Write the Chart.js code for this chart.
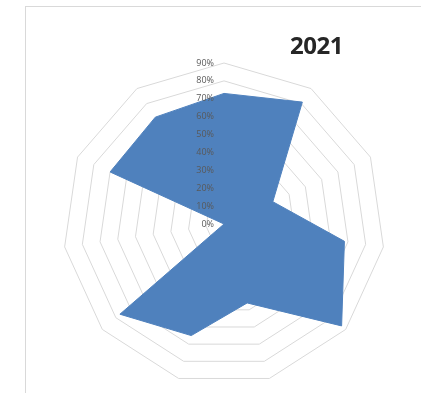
<!DOCTYPE html>
<html>
<head>
<meta charset="utf-8">
<script src="https://cdn.jsdelivr.net/npm/chart.js@4"></script>
<style>
  html, body { margin: 0; padding: 0; background: #fff; }
  #wrap { position: relative; width: 421px; height: 396px; overflow: hidden; }
  #frame { position: absolute; left: 25px; top: 6px; width: 420px; height: 386px;
           border-left: 1px solid #d9d9d9; border-top: 1px solid #d9d9d9; }
  #title { position: absolute; left: 290px; top: 28px; font: bold 24px "Open Sans", sans-serif;
           color: #262626; letter-spacing: -0.5px; }
  canvas { position: absolute; left: 0; top: 0; }
</style>
</head>
<body>
<div id="wrap">
  <div id="frame"></div>
  <canvas id="radar" width="421" height="396"></canvas>
  <div id="title">2021</div>
</div>
<script>
// Chart data
const categories = ['1', '2', '3', '4', '5', '6', '7', '8', '9', '10', '11'];
const values2021 = [0.73, 0.81, 0.30, 0.68, 0.87, 0.46, 0.65, 0.77, 0, 0.70, 0.71];
const tickValues = [0, 0.1, 0.2, 0.3, 0.4, 0.5, 0.6, 0.7, 0.8, 0.9];
const tickLabels = ['0%', '10%', '20%', '30%', '40%', '50%', '60%', '70%', '80%', '90%'];

// Excel puts the % labels just left of the vertical spoke
const tickLabelPlugin = {
    id: 'tickLabels',
    afterDatasetsDraw(chart) {
        const scale = chart.scales.r;
        const ctx = chart.ctx;
        ctx.save();
        ctx.font = '9px "Open Sans", sans-serif';
        ctx.fillStyle = '#595959';
        ctx.textAlign = 'right';
        ctx.textBaseline = 'middle';
        tickValues.forEach((v, i) => {
            const d = scale.getDistanceFromCenterForValue(v);
            ctx.fillText(tickLabels[i], scale.xCenter - 10, scale.yCenter - d);
        });
        ctx.restore();
    }
};

new Chart(document.getElementById('radar'), {
    type: 'radar',
    data: {
        labels: categories,
        datasets: [{
            label: '2021',
            data: values2021,
            backgroundColor: '#4f81bd',
            borderColor: '#4f81bd',
            borderWidth: 1,
            pointRadius: 0,
            fill: true
        }]
    },
    options: {
        responsive: false,
        animation: false,
        layout: { padding: { left: 63, top: 63, right: 36, bottom: 11 } },
        plugins: {
            legend: { display: false },
            tooltip: { enabled: false }
        },
        scales: {
            r: {
                min: 0,
                max: 0.9,
                ticks: { stepSize: 0.1, display: false },
                grid: { color: '#d9d9d9', lineWidth: 1 },
                angleLines: { display: false },
                pointLabels: { display: false }
            }
        }
    },
    plugins: [tickLabelPlugin]
});
</script>
</body>
</html>
